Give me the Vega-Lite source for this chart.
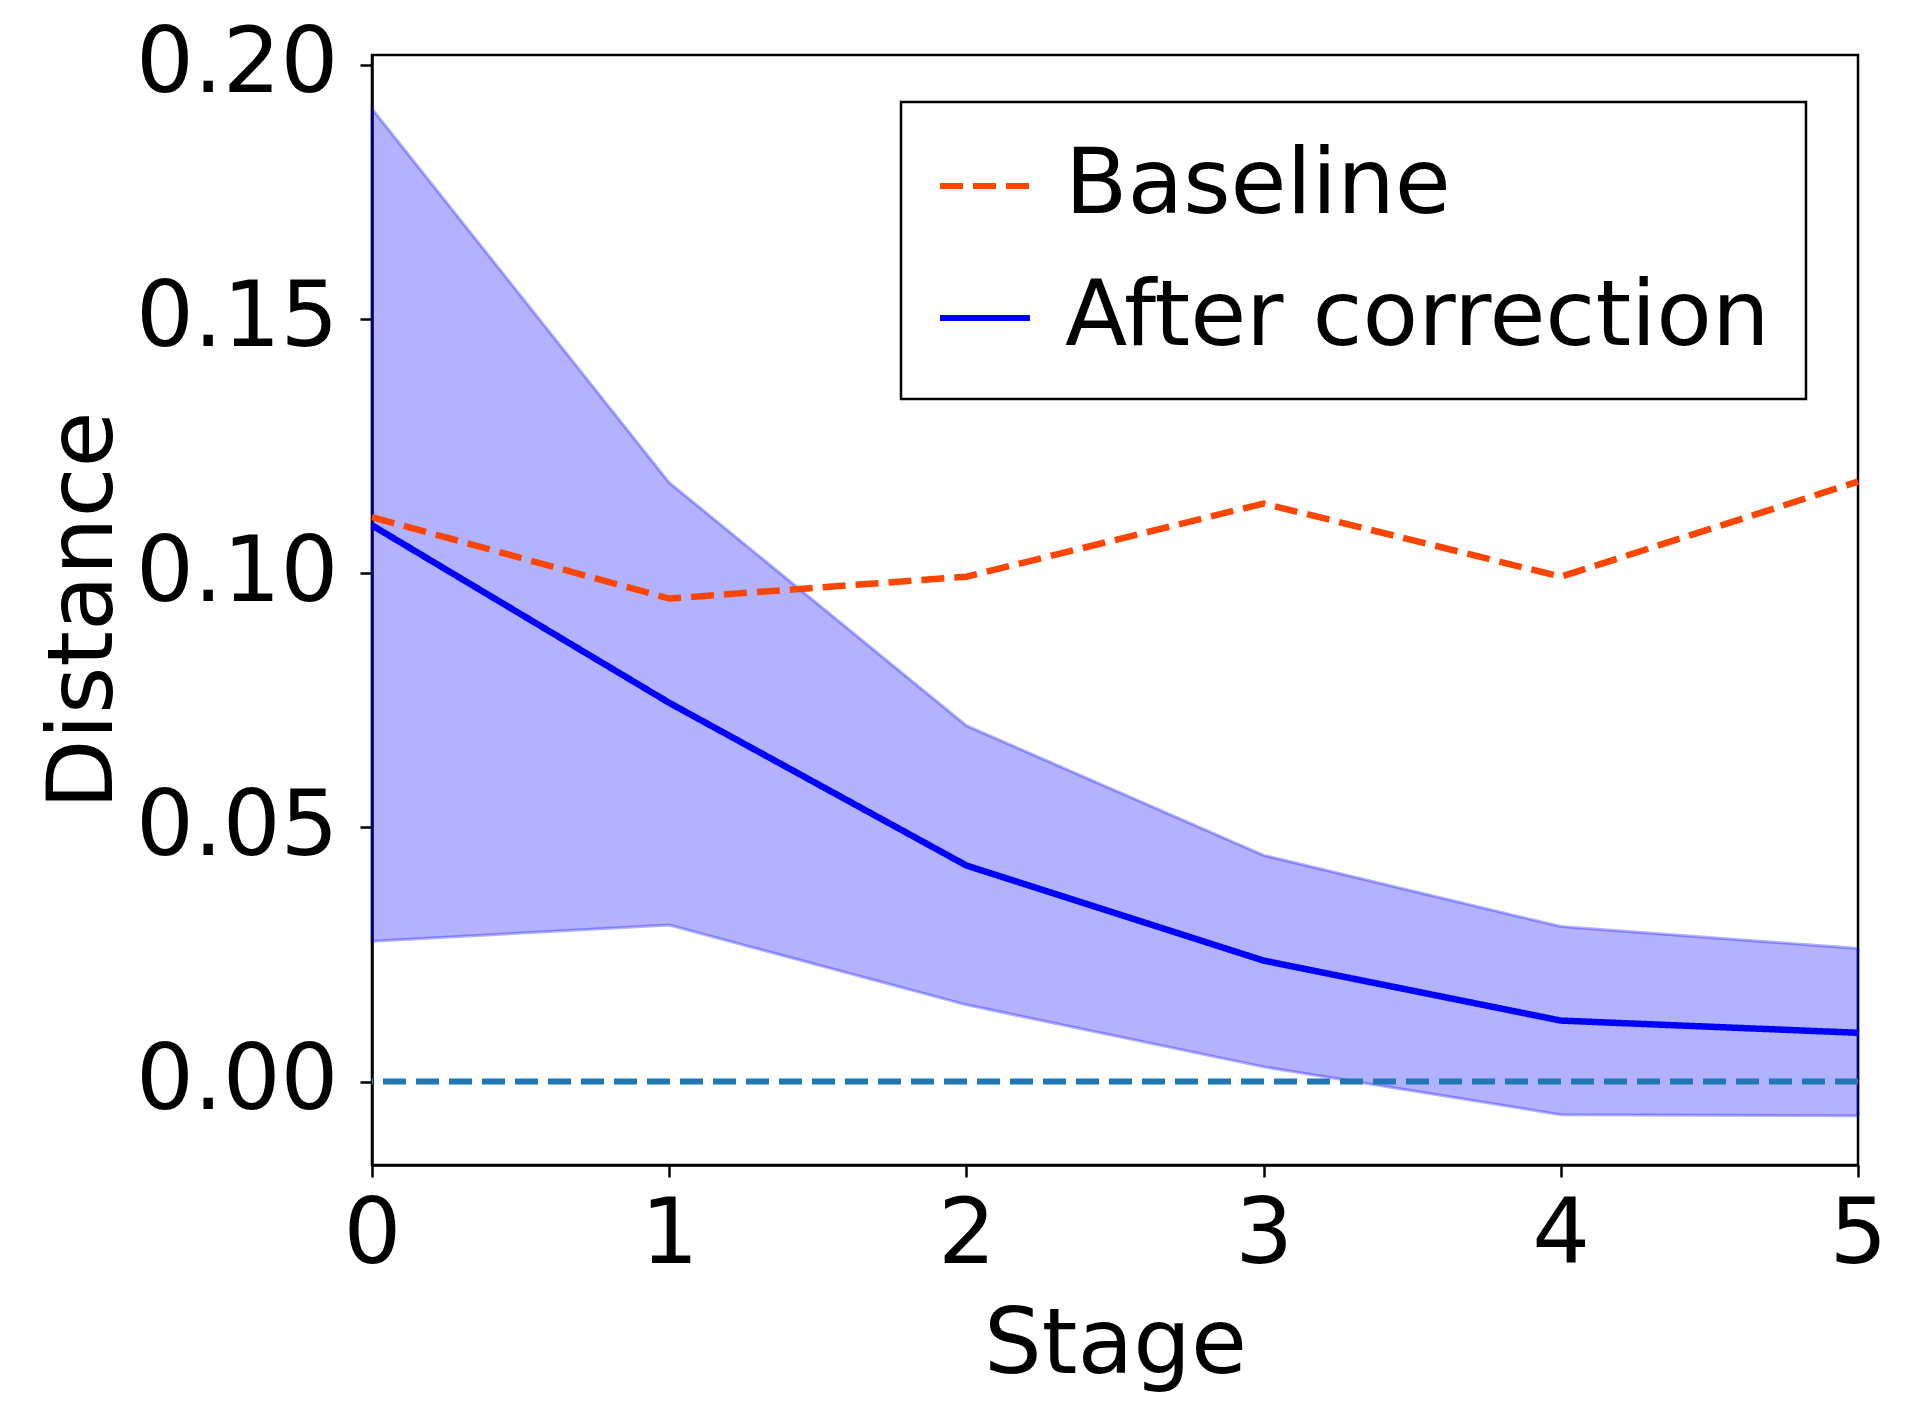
{
  "$schema": "https://vega.github.io/schema/vega-lite/v6.json",
  "autosize": {"type": "none"},
  "width": 1486,
  "height": 1110,
  "padding": {"left": 372, "top": 55, "right": 58, "bottom": 256},
  "background": "white",
  "config": {
    "font": "DejaVu Sans",
    "view": {"stroke": "black", "strokeWidth": 2.5},
    "axis": {
      "grid": false,
      "domainColor": "black",
      "domainWidth": 2.5,
      "tickColor": "black",
      "tickWidth": 2.5,
      "tickSize": 12,
      "labelFont": "DejaVu Sans",
      "labelFontSize": 91,
      "labelColor": "black",
      "labelLimit": 0,
      "labelFlush": false,
      "labelOverlap": false,
      "titleFont": "DejaVu Sans",
      "titleFontSize": 91,
      "titleFontWeight": "normal",
      "titleColor": "black"
    }
  },
  "datasets": {
    "lines": [
      {"stage": 0, "series": "Baseline", "value": 0.111},
      {"stage": 1, "series": "Baseline", "value": 0.095},
      {"stage": 2, "series": "Baseline", "value": 0.0993},
      {"stage": 3, "series": "Baseline", "value": 0.1137},
      {"stage": 4, "series": "Baseline", "value": 0.0993},
      {"stage": 5, "series": "Baseline", "value": 0.118},
      {"stage": 0, "series": "After correction", "value": 0.1094},
      {"stage": 1, "series": "After correction", "value": 0.0745},
      {"stage": 2, "series": "After correction", "value": 0.0425},
      {"stage": 3, "series": "After correction", "value": 0.0238},
      {"stage": 4, "series": "After correction", "value": 0.012},
      {"stage": 5, "series": "After correction", "value": 0.0096}
    ],
    "band": [
      {"stage": 0, "lo": 0.0276, "hi": 0.1913},
      {"stage": 1, "lo": 0.0308, "hi": 0.1178},
      {"stage": 2, "lo": 0.0151, "hi": 0.070},
      {"stage": 3, "lo": 0.0029, "hi": 0.0445},
      {"stage": 4, "lo": -0.0065, "hi": 0.0305},
      {"stage": 5, "lo": -0.0067, "hi": 0.0262}
    ],
    "zero": [{"y": 0}]
  },
  "layer": [
    {
      "data": {"name": "band"},
      "mark": {"type": "area", "color": "#0000ff", "fillOpacity": 0.3, "stroke": "#0000ff", "strokeOpacity": 0.3, "strokeWidth": 3},
      "encoding": {
        "x": {"field": "stage", "type": "quantitative", "scale": {"domain": [0, 5], "nice": false, "zero": false},
          "axis": {"title": "Stage", "values": [0, 1, 2, 3, 4, 5], "format": "d", "labelPadding": 13, "titlePadding": 20}},
        "y": {"field": "lo", "type": "quantitative", "scale": {"domain": [-0.0164, 0.2019], "nice": false, "zero": false},
          "axis": {"title": "Distance", "values": [0, 0.05, 0.1, 0.15, 0.2], "format": ".2f", "labelPadding": 22, "titlePadding": 42}},
        "y2": {"field": "hi"}
      }
    },
    {
      "data": {"name": "zero"},
      "mark": {"type": "rule", "color": "#1f77b4", "strokeWidth": 6, "strokeDash": [23, 10]},
      "encoding": {"y": {"field": "y", "type": "quantitative"}}
    },
    {
      "data": {"name": "lines"},
      "mark": {"type": "line", "strokeWidth": 6.5},
      "encoding": {
        "x": {"field": "stage", "type": "quantitative"},
        "y": {"field": "value", "type": "quantitative"},
        "color": {"field": "series", "type": "nominal",
          "scale": {"domain": ["Baseline", "After correction"], "range": ["#ff4500", "#0000ff"]},
          "legend": {
            "title": null,
            "orient": "none",
            "legendX": 529,
            "legendY": 47,
            "symbolType": "stroke",
            "symbolSize": 8100,
            "symbolStrokeWidth": 6,
            "labelFontSize": 91,
            "labelFont": "DejaVu Sans",
            "labelColor": "black",
            "labelLimit": 0,
            "labelOffset": 32,
            "rowPadding": 39,
            "padding": 36,
            "strokeColor": "black",
            "cornerRadius": 0,
            "fillColor": "white",
            "encode": {"legend": {"update": {"strokeWidth": {"value": 2.5}}}}
          }
        },
        "strokeDash": {"field": "series", "type": "nominal",
          "scale": {"domain": ["Baseline", "After correction"], "range": [[23, 10], [1, 0]]},
          "legend": null
        }
      }
    }
  ]
}
